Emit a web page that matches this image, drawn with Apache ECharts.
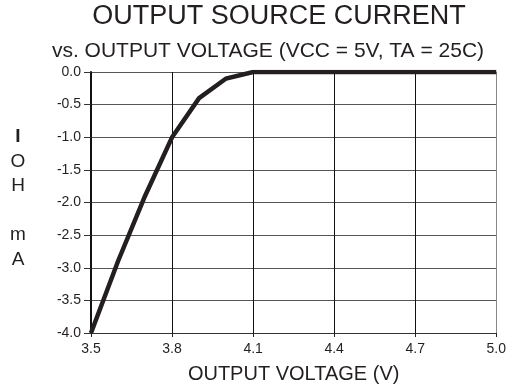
<!DOCTYPE html>
<html>
<head>
<meta charset="utf-8">
<script src="https://cdn.jsdelivr.net/npm/echarts@6/dist/echarts.min.js"></script>
<style>
  html, body { margin: 0; padding: 0; background: #fff; }
  #chart { width: 509px; height: 390px; }
</style>
</head>
<body>
<div id="chart"></div>
<script>
// Output source current (mA) against output voltage (V)
const voltage = [3.5, 3.6, 3.7, 3.8, 3.9, 4.0, 4.1, 4.2, 4.3, 4.4, 4.5, 4.6, 4.7, 4.8, 4.9, 5.0];
const current = [-4.0, -2.9, -1.9, -1.0, -0.4, -0.1, 0, 0, 0, 0, 0, 0, 0, 0, 0, 0];
const xTicks = [3.5, 3.8, 4.1, 4.4, 4.7, 5.0];
const yTicks = [0.0, -0.5, -1.0, -1.5, -2.0, -2.5, -3.0, -3.5, -4.0];

const FONT = '"Liberation Sans", Arial, Helvetica, sans-serif';
const INK = '#231f20';

const chart = echarts.init(document.getElementById('chart'), null, { renderer: 'canvas' });

chart.setOption({
  animation: false,
  backgroundColor: '#ffffff',
  textStyle: { fontFamily: FONT, color: INK },
  title: [
    {
      text: 'OUTPUT SOURCE CURRENT',
      left: 279, top: 3, padding: 0, textAlign: 'center',
      textStyle: { fontFamily: FONT, fontSize: 27, fontWeight: 'normal', color: INK }
    },
    {
      text: 'vs. OUTPUT VOLTAGE (VCC = 5V, TA = 25C)',
      left: 268, top: 41, padding: 0, textAlign: 'center',
      textStyle: { fontFamily: FONT, fontSize: 21, fontWeight: 'normal', color: INK }
    }
  ],
  graphic: [
    {
      // vertical axis caption, one letter per line
      type: 'text',
      x: 18, y: 125,
      style: {
        text: '{b|I}\nO\nH\n\nm\nA',
        fontFamily: FONT, fontSize: 19, lineHeight: 24.5,
        fill: INK, align: 'center', verticalAlign: 'top',
        rich: { b: { fontFamily: FONT, fontSize: 19, fontWeight: 'bold', lineHeight: 24.5, fill: INK } }
      }
    }
  ],
  grid: { left: 91, right: 12, top: 72, bottom: 57, containLabel: false },
  xAxis: {
    type: 'value',
    min: xTicks[0], max: xTicks[xTicks.length - 1], interval: 0.3,
    name: 'OUTPUT VOLTAGE (V)',
    nameLocation: 'middle', nameGap: 31,
    nameTextStyle: { fontFamily: FONT, fontSize: 20, color: INK },
    axisLine: { show: true, onZero: false, lineStyle: { color: '#333', width: 1.2 } },
    axisTick: { show: true, length: 4, lineStyle: { color: '#222', width: 1 } },
    axisLabel: {
      margin: 9, fontFamily: FONT, fontSize: 14, color: INK,
      formatter: v => v.toFixed(1)
    },
    splitLine: { show: true, lineStyle: { color: ['#111', '#111', '#111', '#111', '#111', '#888'], width: 1 } }
  },
  yAxis: {
    type: 'value',
    min: yTicks[yTicks.length - 1], max: yTicks[0], interval: 0.5,
    axisLine: { show: true, onZero: false, lineStyle: { color: '#111', width: 2 } },
    axisTick: { show: true, length: 7, lineStyle: { color: '#333', width: 1 } },
    axisLabel: {
      margin: 10, fontFamily: FONT, fontSize: 14, color: INK,
      formatter: v => v.toFixed(1)
    },
    splitLine: { show: true, lineStyle: { color: '#555', width: 1 } }
  },
  series: [
    {
      type: 'line',
      data: voltage.map((v, i) => [v, current[i]]),
      showSymbol: false,
      symbol: 'none',
      lineStyle: { color: INK, width: 4.5, join: 'miter' },
      z: 5
    }
  ]
});
</script>
</body>
</html>
